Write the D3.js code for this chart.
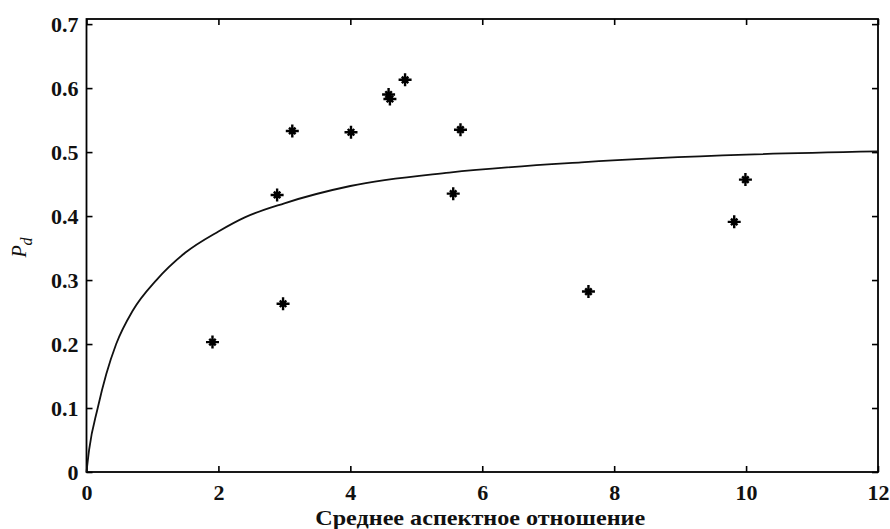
<!DOCTYPE html>
<html>
<head>
<meta charset="utf-8">
<script src="https://cdn.jsdelivr.net/npm/d3@7"></script>
<style>
  html, body { margin: 0; padding: 0; background: #fff; }
  svg { display: block; }
</style>
</head>
<body>
<div id="chart"></div>
<script>
// Экспериментальные точки
const pointX = [1.91, 2.89, 2.98, 3.12, 4.01, 4.58, 4.60, 4.83, 5.56, 5.67, 7.61, 9.82, 9.99];
const pointY = [0.203, 0.433, 0.263, 0.533, 0.531, 0.590, 0.583, 0.613, 0.435, 0.535, 0.282, 0.391, 0.457];

// Аппроксимирующая кривая
const curveX = [0, 0.04, 0.17, 0.3, 0.45, 0.7, 1.06, 1.5, 2, 2.4, 3, 4, 5.5, 7.5, 10, 12];
const curveY = [0, 0.035, 0.1, 0.153, 0.2, 0.252, 0.3, 0.343, 0.376, 0.398, 0.420, 0.447, 0.468, 0.484, 0.496, 0.501];

const xTicks = [0, 2, 4, 6, 8, 10, 12];
const yTicks = [0, 0.1, 0.2, 0.3, 0.4, 0.5, 0.6, 0.7];

const W = 890, H = 529;
const margin = { top: 19, right: 12, bottom: 57, left: 86.5 };

const svg = d3.select('#chart').append('svg')
    .attr('width', W).attr('height', H);

const x = d3.scaleLinear().domain([0, 12]).range([margin.left, W - margin.right]);
const y = d3.scaleLinear().domain([0, 0.708]).range([H - margin.bottom, margin.top]);

const font = '"Liberation Serif", "Times New Roman", serif';

// Рамка
svg.append('rect')
    .attr('x', x(0)).attr('y', y(0.708))
    .attr('width', x(12) - x(0)).attr('height', y(0) - y(0.708))
    .attr('fill', 'none').attr('stroke', '#000').attr('stroke-width', 1.8);

// Оси (засечки внутрь)
const axisStyle = g => {
    g.select('.domain').remove();
    g.selectAll('.tick line').attr('stroke', '#000').attr('stroke-width', 1.6);
    g.selectAll('.tick text')
        .attr('font-family', font).attr('font-size', '22px')
        .attr('font-weight', 'bold').attr('fill', '#111');
};

svg.append('g')
    .attr('transform', `translate(0,${y(0)})`)
    .call(d3.axisBottom(x).tickValues(xTicks).tickFormat(d3.format('d'))
        .tickSizeInner(-6).tickSizeOuter(0).tickPadding(12))
    .call(axisStyle)
    .call(g => g.selectAll('.tick line').attr('y2', -6));

svg.append('g')
    .attr('transform', `translate(0,${y(0.708)})`)
    .call(d3.axisTop(x).tickValues(xTicks).tickFormat('')
        .tickSizeInner(-6).tickSizeOuter(0))
    .call(axisStyle);

svg.append('g')
    .attr('transform', `translate(${x(0)},0)`)
    .call(d3.axisLeft(y).tickValues(yTicks).tickFormat(d => d === 0 ? '0' : d3.format('.1f')(d))
        .tickSizeInner(-6).tickSizeOuter(0).tickPadding(8))
    .call(axisStyle);

svg.append('g')
    .attr('transform', `translate(${x(12)},0)`)
    .call(d3.axisRight(y).tickValues(yTicks).tickFormat('')
        .tickSizeInner(-6).tickSizeOuter(0))
    .call(axisStyle);

// Кривая
const line = d3.line()
    .x((d, i) => x(curveX[i]))
    .y(d => y(d))
    .curve(d3.curveMonotoneX);

svg.append('path')
    .datum(curveY)
    .attr('d', line)
    .attr('fill', 'none')
    .attr('stroke', '#111')
    .attr('stroke-width', 1.8);

// Маркеры "*"
const star = {
    draw(ctx, size) {
        const r = Math.sqrt(size) / 2, q = r * 0.5;
        ctx.moveTo(-r, 0); ctx.lineTo(r, 0);
        ctx.moveTo(0, -r); ctx.lineTo(0, r);
        ctx.moveTo(-q, -q); ctx.lineTo(q, q);
        ctx.moveTo(-q, q); ctx.lineTo(q, -q);
    }
};

svg.selectAll('.pt')
    .data(pointX)
    .join('path')
    .attr('class', 'pt')
    .attr('transform', (d, i) => `translate(${x(d)},${y(pointY[i])})`)
    .attr('d', d3.symbol(star, 169))
    .attr('fill', 'none')
    .attr('stroke', '#000')
    .attr('stroke-width', 2.4);

// Подписи осей
svg.append('text')
    .attr('x', (x(0) + x(12)) / 2 - 2).attr('y', 525)
    .attr('text-anchor', 'middle')
    .attr('font-family', font).attr('font-size', '22px')
    .attr('font-weight', 'bold').attr('fill', '#111')
    .attr('textLength', 330).attr('lengthAdjust', 'spacingAndGlyphs')
    .text('Среднее аспектное отношение');

const yl = svg.append('text')
    .attr('transform', `translate(26,${(y(0.708) + y(0)) / 2 + 2}) rotate(-90)`)
    .attr('text-anchor', 'middle')
    .attr('font-family', font).attr('font-size', '20px')
    .attr('font-style', 'italic').attr('fill', '#111');
yl.append('tspan').text('P');
yl.append('tspan').attr('dy', 6).attr('font-size', '16px').text('d');
</script>
</body>
</html>
